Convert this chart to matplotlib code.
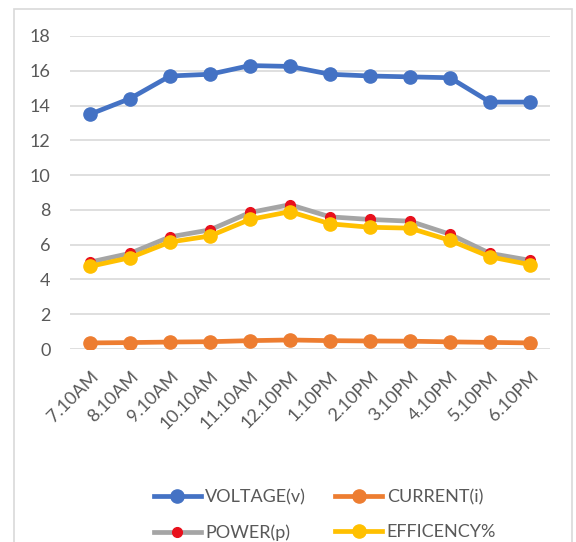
import numpy as np
import matplotlib
matplotlib.use("Agg")
import matplotlib.pyplot as plt
from matplotlib.patches import Rectangle

# data
times = ["7.10AM", "8.10AM", "9.10AM", "10.10AM", "11.10AM", "12.10PM",
         "1.10PM", "2.10PM", "3.10PM", "4.10PM", "5.10PM", "6.10PM"]
voltage = [13.5, 14.4, 15.7, 15.8, 16.3, 16.25, 15.8, 15.7, 15.65, 15.6, 14.2, 14.2]
current = [0.35, 0.37, 0.40, 0.42, 0.48, 0.52, 0.48, 0.46, 0.45, 0.41, 0.38, 0.35]
power = [5.0, 5.5, 6.45, 6.85, 7.85, 8.3, 7.6, 7.45, 7.35, 6.6, 5.5, 5.1]
efficiency = [4.75, 5.25, 6.15, 6.5, 7.45, 7.9, 7.2, 7.0, 6.95, 6.25, 5.3, 4.85]

plt.rcParams["font.family"] = ["Lato", "DejaVu Sans"]
text_col = "#595959"

fig = plt.figure(figsize=(5.76, 5.42), dpi=100)
ax = fig.add_axes([70 / 576, 1 - 349 / 542, 480 / 576, 313 / 542])

x = np.arange(len(times))
lw = 3.4
h_v, = ax.plot(x, voltage, color="#4472C4", lw=lw, marker="o", ms=9.5, label="VOLTAGE(v)", zorder=3)
h_c, = ax.plot(x, current, color="#ED7D31", lw=lw, marker="o", ms=9.5, label="CURRENT(i)", zorder=3)
h_p, = ax.plot(x, power, color="#A5A5A5", lw=lw, marker="o", ms=7, mfc="#E8101C", mec="#E8101C",
               label="POWER(p)", zorder=3)
h_e, = ax.plot(x, efficiency, color="#FFC000", lw=lw, marker="o", ms=9.5, label="EFFICENCY%", zorder=4)

ax.set_xlim(-0.5, len(times) - 0.5)
ax.set_ylim(0, 18)
ax.set_yticks(range(0, 19, 2))
ax.set_xticks(x)
ax.set_xticklabels(times, rotation=45, ha="right", rotation_mode="anchor")
ax.tick_params(axis="both", length=0, colors=text_col, labelsize=13)
ax.tick_params(axis="x", pad=14)
ax.tick_params(axis="y", pad=14)
ax.grid(axis="y", color="#D9D9D9", lw=1.2)
ax.set_axisbelow(True)
for s in ax.spines.values():
    s.set_visible(False)

# legend fills column-wise, so order handles to get rows V,C / P,E
leg = fig.legend([h_v, h_p, h_c, h_e], ["VOLTAGE(v)", "POWER(p)", "CURRENT(i)", "EFFICENCY%"],
                 loc="center", bbox_to_anchor=(325 / 576, 1 - 515 / 542), ncol=2, frameon=False,
                 fontsize=13, handlelength=2.6, columnspacing=1.6, handletextpad=0.25,
                 labelspacing=1.05, borderpad=0)
for t in leg.get_texts():
    t.set_color(text_col)

# chart frame
fig.patches.append(Rectangle((14 / 576, -0.02), 558 / 576, 1 - 9 / 542 + 0.02,
                             transform=fig.transFigure, fill=False, ec="#D9D9D9", lw=1.2))

fig.savefig("out.png", dpi=100)
